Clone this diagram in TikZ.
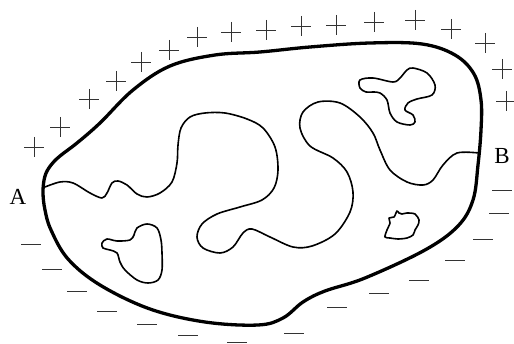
\documentclass[tikz,border=0pt]{standalone}
\usepackage{fontspec}
\setmainfont{Liberation Serif}
\begin{document}
\begin{tikzpicture}[x=1pt,y=-1pt,
  outer/.style={line width=3.3pt,line join=round},
  inner/.style={line width=1.6pt,line join=round},
  signline/.style={line width=0.9pt,black!80},
  lbl/.style={font=\fontsize{23}{26}\selectfont,inner sep=0pt}]
\useasboundingbox (0,0) rectangle (514,344);
% outer boundary
\draw[outer] plot[smooth cycle,tension=0.6] coordinates{
 (43,192) (45,176) (51,165) (60,156) (77,143) (100,123) (133,90) (170,66) (215,55) (260,52) (310,47) (370,43) (422,44) (455,55) (474,74) (481,100) (481,130) (478,165) (473,200) (458,226) (425,250) (365,278) (325,291) (303,302) (283,318) (258,325) (205,322) (150,309) (100,285) (68,259) (51,230) (45,210)};
% main wiggly line A -> B
\draw[inner] plot[smooth,tension=0.55] coordinates{
 (45,187) (60,182) (73,183) (90,193) (102,198) (107,193) (112,183) (118,181) (127,185) (137,194) (147,197) (160,193) (172,182) (177,163) (178,145) (181,128) (190,117) (205,113) (225,113) (247,119) (263,128) (275,147) (278,170) (274,188) (262,200) (240,207) (217,214) (202,224) (197,237) (203,248) (220,253) (233,247) (243,233) (252,229) (270,237) (293,247) (312,246) (335,234) (350,212) (353,192) (347,172) (333,158) (310,146) (300,128) (303,112) (318,102) (340,103) (360,117) (373,133) (380,150) (390,170) (407,182) (423,185) (433,180) (443,165) (457,153) (479,153)};
% blobs
\draw[inner] plot[smooth cycle,tension=0.55] coordinates{
 (360,80) (373,78) (393,82) (400,78) (407,70) (413,68) (427,73) (435,85) (432,95) (417,99) (408,103) (405,110) (413,115) (415,122) (410,125) (397,122) (390,113) (387,100) (380,93) (373,92) (366,92) (360,88)};
\draw[inner] plot[smooth cycle,tension=0.55] coordinates{
 (102,243) (107,239) (117,241) (130,240) (134,235) (137,228) (147,224) (157,228) (161,240) (162,253) (162,270) (158,280) (148,283) (137,280) (125,270) (120,262) (117,253) (110,250) (103,248)};
\draw[inner] plot[smooth cycle,tension=0.5] coordinates{
 (385,237) (387,230) (390,223) (389,218) (394,217) (397,211) (399,213) (402,214) (407,213) (415,214) (419,220) (418,225) (415,230) (413,235) (407,238) (398,239) (390,238)};
% plus signs
\foreach \px/\py in {34/147,60/127,89/99,116/81,141/62,169/50,197/37,231/32,266/30,301/26,336/25,374/22,415/20,451/29,485/43,502/69,506/101}{
  \draw[signline] (\px-10,\py) -- (\px+10,\py) (\px,\py-10) -- (\px,\py+10);
}
% minus signs
\foreach \mx/\my in {31/244,52/269,77/291,107/311,147/324,188/335,237/342,294/333,337/307,379/293,419/280,455/260,483/239,499/213,502/190}{
  \draw[signline] (\mx-10,\my) -- (\mx+10,\my);
}
\node[lbl] (A) at (18,197) {A};
\node[lbl] (B) at (502,156) {B};
\end{tikzpicture}
\end{document}
